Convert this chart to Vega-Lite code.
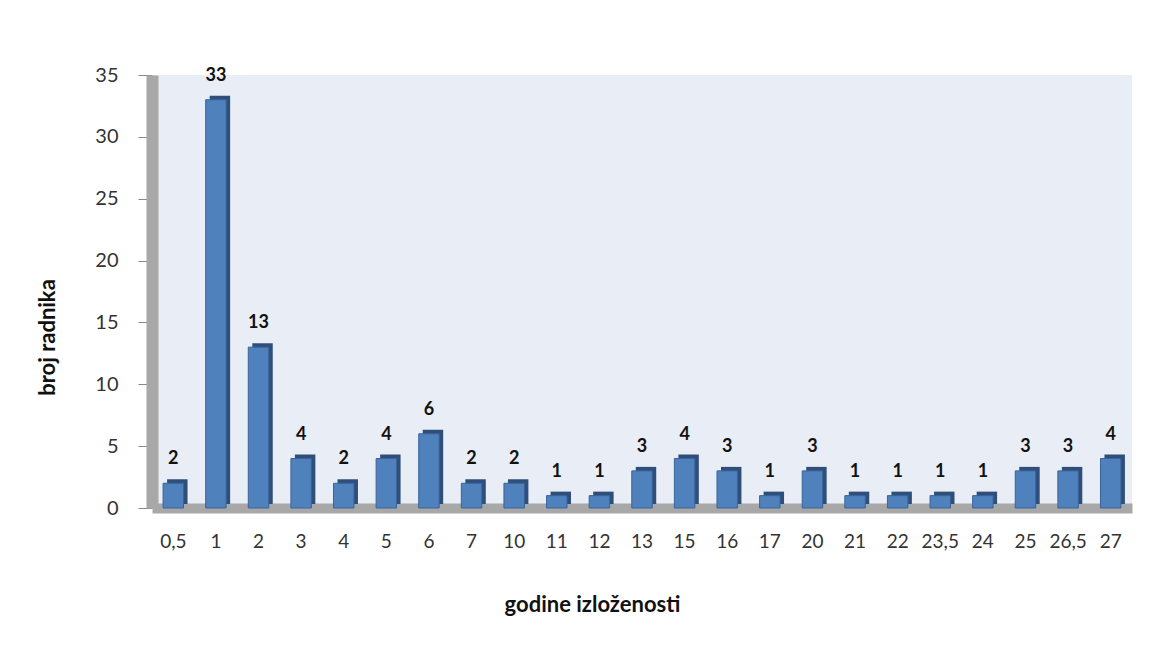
{
  "$schema": "https://vega.github.io/schema/vega-lite/v6.json",
  "autosize": "none",
  "width": 980,
  "height": 433,
  "padding": {"left": 152, "top": 75, "right": 33, "bottom": 137},
  "background": "white",
  "config": {
    "font": "Lato",
    "view": {"fill": "#E9EDF5", "stroke": null}
  },
  "data": {
    "values": [
      {"g": "0,5", "n": 2}, {"g": "1", "n": 33}, {"g": "2", "n": 13}, {"g": "3", "n": 4},
      {"g": "4", "n": 2}, {"g": "5", "n": 4}, {"g": "6", "n": 6}, {"g": "7", "n": 2},
      {"g": "10", "n": 2}, {"g": "11", "n": 1}, {"g": "12", "n": 1}, {"g": "13", "n": 3},
      {"g": "15", "n": 4}, {"g": "16", "n": 3}, {"g": "17", "n": 1}, {"g": "20", "n": 3},
      {"g": "21", "n": 1}, {"g": "22", "n": 1}, {"g": "23,5", "n": 1}, {"g": "24", "n": 1},
      {"g": "25", "n": 3}, {"g": "26,5", "n": 3}, {"g": "27", "n": 4}
    ]
  },
  "encoding": {
    "x": {
      "field": "g", "type": "nominal", "sort": null,
      "scale": {"paddingInner": 0.52, "paddingOuter": 0.26},
      "axis": {
        "title": "godine izloženosti", "titleFontSize": 22, "titleFontWeight": "bold", "titleColor": "#111",
        "titleX": 440, "titleY": 86,
        "labelAngle": 0, "labelFontSize": 19, "labelColor": "#333", "labelPadding": 24,
        "ticks": false, "domainColor": "#A8A8A8", "domainWidth": 10
      }
    },
    "y": {
      "field": "n", "type": "quantitative",
      "scale": {"domain": [0, 35]},
      "axis": {
        "title": "broj radnika", "titleFontSize": 22, "titleFontWeight": "bold", "titleColor": "#111",
        "titleX": -93, "titleY": 262,
        "values": [0, 5, 10, 15, 20, 25, 30, 35],
        "labelFontSize": 20, "labelColor": "#333", "labelPadding": 20,
        "tickSize": 14, "tickColor": "#888", "grid": false,
        "domainColor": "#A8A8A8", "domainWidth": 12
      }
    }
  },
  "layer": [
    {"mark": {"type": "bar", "color": "#2F4F7A", "xOffset": 4, "yOffset": -4}},
    {"mark": {"type": "bar", "color": "#4F81BD", "stroke": "#3A6399", "strokeWidth": 1}},
    {
      "mark": {"type": "text", "dy": -24, "fontSize": 18, "fontWeight": "bold", "color": "#111"},
      "encoding": {"text": {"field": "n", "type": "quantitative"}}
    }
  ]
}
